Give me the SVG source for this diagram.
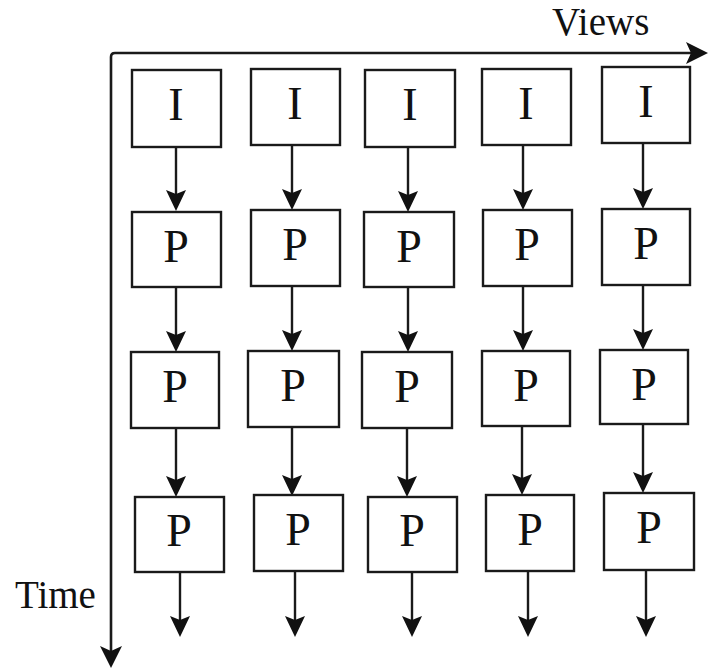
<svg xmlns="http://www.w3.org/2000/svg" width="708" height="671" viewBox="0 0 708 671">
<style>
.box{fill:#fff;stroke:#1a1a1a;stroke-width:2.4}
.lbl{font-family:'Liberation Serif','Times New Roman',serif;font-size:46px;fill:#111;text-anchor:middle}
.ax{font-family:'Liberation Serif','Times New Roman',serif;font-size:39px;fill:#111}
.ln{stroke:#1a1a1a;stroke-width:2.4;fill:none}
.axis{stroke:#1a1a1a;stroke-width:2.6;fill:none}
.hd{fill:#111;stroke:none}
</style>
<rect width="708" height="671" fill="#fff"/>
<g id="axes">
<path class="axis" d="M111,60 L111,57 Q111,53 115,53 L692,53"/>
<path class="axis" d="M111,60 L111,652"/>
<path class="hd" d="M708,53 L686,42 L691,53 L686,64 Z"/>
<path class="hd" d="M111,668 L100,646 L111,651 L122,646 Z"/>
<text class="ax" x="552" y="35">Views</text>
<text class="ax" x="15" y="608">Time</text>
</g>
<g id="connectors">
<line class="ln" x1="176" y1="147" x2="176" y2="197"/><path class="hd" d="M176,211 l-10,-21 l10,4 l10,-4 z"/>
<line class="ln" x1="292" y1="145" x2="292" y2="196"/><path class="hd" d="M292,210 l-10,-21 l10,4 l10,-4 z"/>
<line class="ln" x1="408" y1="147" x2="408" y2="198"/><path class="hd" d="M408,212 l-10,-21 l10,4 l10,-4 z"/>
<line class="ln" x1="523" y1="145" x2="523" y2="196"/><path class="hd" d="M523,210 l-10,-21 l10,4 l10,-4 z"/>
<line class="ln" x1="643" y1="143" x2="643" y2="195"/><path class="hd" d="M643,209 l-10,-21 l10,4 l10,-4 z"/>
<line class="ln" x1="176" y1="287" x2="176" y2="338"/><path class="hd" d="M176,352 l-10,-21 l10,4 l10,-4 z"/>
<line class="ln" x1="292" y1="286" x2="292" y2="337"/><path class="hd" d="M292,351 l-10,-21 l10,4 l10,-4 z"/>
<line class="ln" x1="408" y1="287" x2="408" y2="338"/><path class="hd" d="M408,352 l-10,-21 l10,4 l10,-4 z"/>
<line class="ln" x1="523" y1="286" x2="523" y2="337"/><path class="hd" d="M523,351 l-10,-21 l10,4 l10,-4 z"/>
<line class="ln" x1="643" y1="285" x2="643" y2="336"/><path class="hd" d="M643,350 l-10,-21 l10,4 l10,-4 z"/>
<line class="ln" x1="176" y1="428" x2="176" y2="483"/><path class="hd" d="M176,497 l-10,-21 l10,4 l10,-4 z"/>
<line class="ln" x1="292" y1="427" x2="292" y2="482"/><path class="hd" d="M292,496 l-10,-21 l10,4 l10,-4 z"/>
<line class="ln" x1="407" y1="428" x2="407" y2="483"/><path class="hd" d="M407,497 l-10,-21 l10,4 l10,-4 z"/>
<line class="ln" x1="522" y1="426" x2="522" y2="481"/><path class="hd" d="M522,495 l-10,-21 l10,4 l10,-4 z"/>
<line class="ln" x1="643" y1="424" x2="643" y2="479"/><path class="hd" d="M643,493 l-10,-21 l10,4 l10,-4 z"/>
<line class="ln" x1="180" y1="572" x2="180" y2="623"/><path class="hd" d="M180,637 l-10,-21 l10,4 l10,-4 z"/>
<line class="ln" x1="295" y1="571" x2="295" y2="623"/><path class="hd" d="M295,637 l-10,-21 l10,4 l10,-4 z"/>
<line class="ln" x1="412" y1="572" x2="412" y2="623"/><path class="hd" d="M412,637 l-10,-21 l10,4 l10,-4 z"/>
<line class="ln" x1="528" y1="571" x2="528" y2="623"/><path class="hd" d="M528,637 l-10,-21 l10,4 l10,-4 z"/>
<line class="ln" x1="646" y1="570" x2="646" y2="623"/><path class="hd" d="M646,637 l-10,-21 l10,4 l10,-4 z"/>
</g>
<g id="nodes">
<g id="r1c1"><rect class="box" x="132" y="70" width="89" height="77"/><text class="lbl" x="176" y="120">I</text></g>
<g id="r1c2"><rect class="box" x="251" y="69" width="89" height="76"/><text class="lbl" x="295" y="119">I</text></g>
<g id="r1c3"><rect class="box" x="365" y="70" width="90" height="77"/><text class="lbl" x="410" y="120">I</text></g>
<g id="r1c4"><rect class="box" x="482" y="69" width="89" height="76"/><text class="lbl" x="526" y="119">I</text></g>
<g id="r1c5"><rect class="box" x="602" y="67" width="88" height="76"/><text class="lbl" x="646" y="117">I</text></g>
<g id="r2c1"><rect class="box" x="132" y="212" width="89" height="75"/><text class="lbl" x="176" y="262">P</text></g>
<g id="r2c2"><rect class="box" x="251" y="210" width="89" height="76"/><text class="lbl" x="295" y="260">P</text></g>
<g id="r2c3"><rect class="box" x="364" y="212" width="90" height="75"/><text class="lbl" x="409" y="262">P</text></g>
<g id="r2c4"><rect class="box" x="483" y="210" width="89" height="76"/><text class="lbl" x="527" y="260">P</text></g>
<g id="r2c5"><rect class="box" x="602" y="209" width="88" height="76"/><text class="lbl" x="646" y="259">P</text></g>
<g id="r3c1"><rect class="box" x="131" y="352" width="88" height="76"/><text class="lbl" x="175" y="402">P</text></g>
<g id="r3c2"><rect class="box" x="248" y="351" width="91" height="76"/><text class="lbl" x="293" y="401">P</text></g>
<g id="r3c3"><rect class="box" x="362" y="352" width="90" height="76"/><text class="lbl" x="407" y="402">P</text></g>
<g id="r3c4"><rect class="box" x="482" y="351" width="88" height="75"/><text class="lbl" x="526" y="401">P</text></g>
<g id="r3c5"><rect class="box" x="600" y="350" width="88" height="74"/><text class="lbl" x="644" y="400">P</text></g>
<g id="r4c1"><rect class="box" x="135" y="497" width="89" height="75"/><text class="lbl" x="179" y="546">P</text></g>
<g id="r4c2"><rect class="box" x="254" y="495" width="89" height="76"/><text class="lbl" x="298" y="545">P</text></g>
<g id="r4c3"><rect class="box" x="368" y="497" width="89" height="75"/><text class="lbl" x="412" y="546">P</text></g>
<g id="r4c4"><rect class="box" x="486" y="495" width="88" height="76"/><text class="lbl" x="530" y="545">P</text></g>
<g id="r4c5"><rect class="box" x="604" y="493" width="90" height="77"/><text class="lbl" x="649" y="543">P</text></g>
</g>
</svg>
